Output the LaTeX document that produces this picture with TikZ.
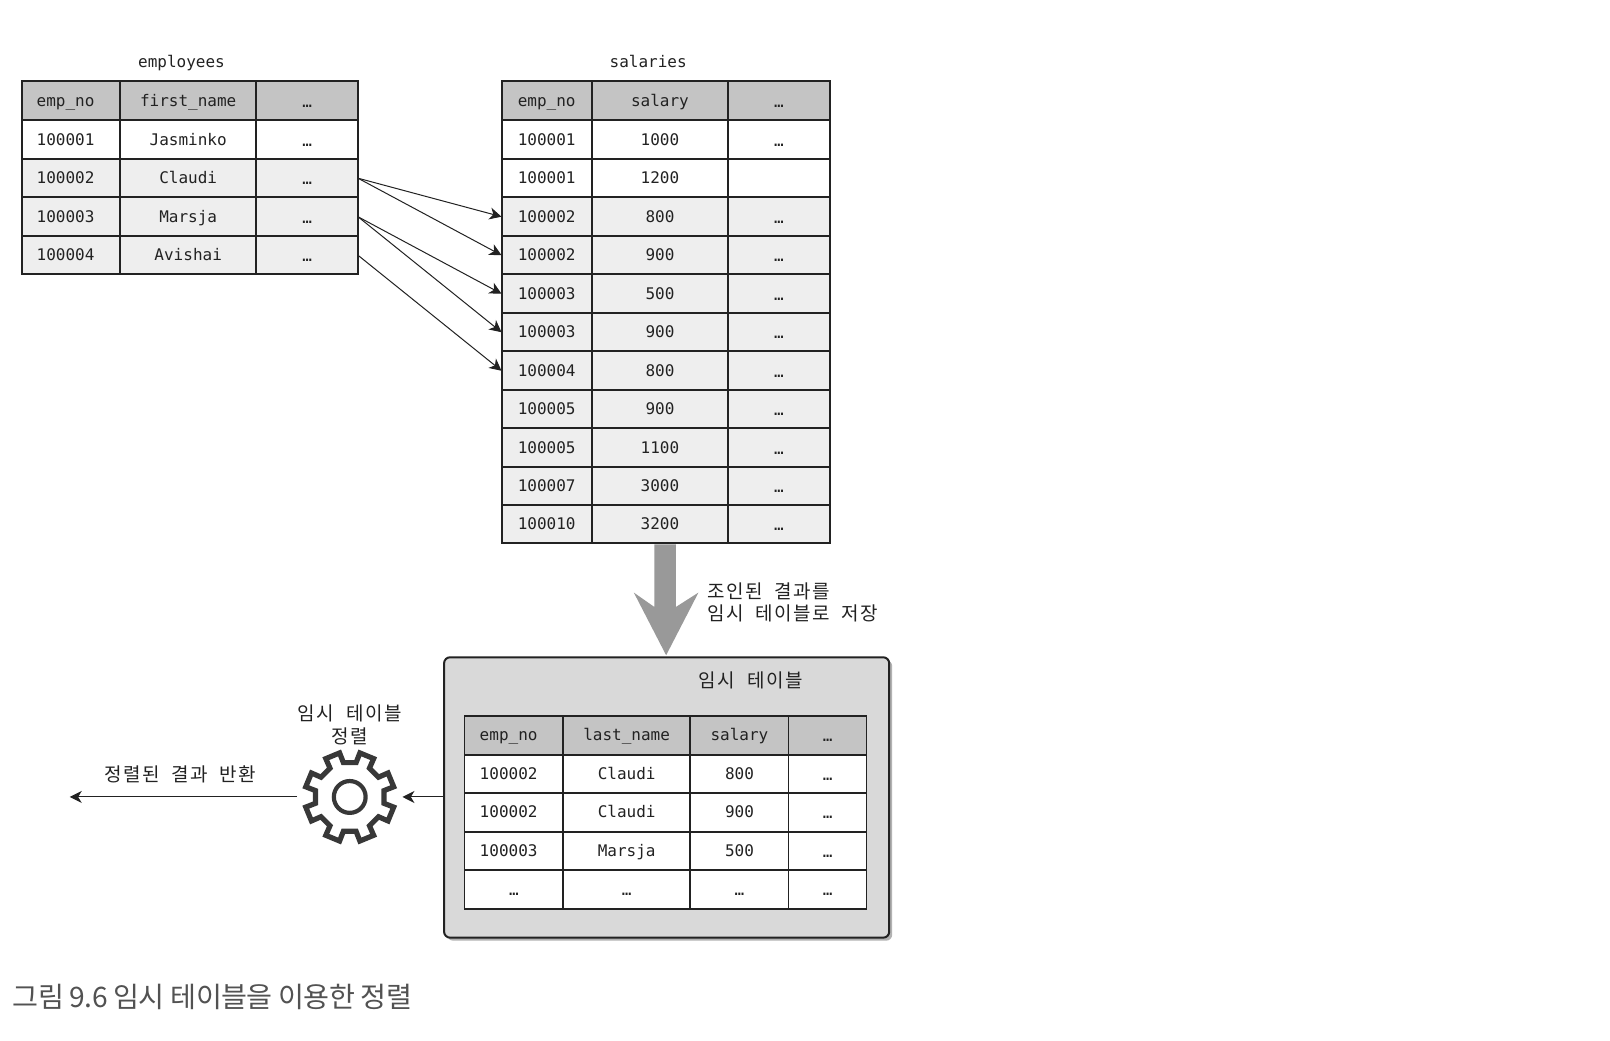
\documentclass[tikz,border=0pt]{standalone}
\usepackage{fontspec}
\setmainfont{DejaVu Sans Mono}
\newfontfamily\kr[LetterSpace=8,WordSpace=2]{Noto Sans CJK KR}
\newfontfamily\krcap[LetterSpace=-2]{Noto Sans CJK KR}
\usetikzlibrary{arrows.meta,shadows}
\definecolor{hdr}{HTML}{C4C4C4}
\definecolor{alt}{HTML}{EEEEEE}
\definecolor{ink}{HTML}{222222}
\tikzset{
  cellbox/.style={draw=ink,line width=1pt,inner sep=0pt,outer sep=0pt,text=ink,font=\fontsize{8}{8}\selectfont,text height=7pt,text depth=1.5pt,align=center},
  tcell/.style={cellbox,line width=.75pt},
  title/.style={inner sep=0pt,text=ink,font=\fontsize{8}{8}\selectfont},
  krlabel/.style={inner sep=0pt,text=ink,align=center,font=\kr\fontsize{9.5}{11.4}\selectfont},
  link/.style={draw=ink,line width=.5pt,-{Stealth[length=6pt,width=6pt,inset=1.8pt]}},
  flow/.style={draw=ink,line width=.5pt,-{Stealth[length=6pt,width=6pt,inset=1.8pt]}},
}
\newcommand{\cellat}[8][cellbox]{%
  \node[#1,fill=#7,minimum width={(#4-#3)*0.5128pt},minimum height={(#6-#5)*0.5135pt}] (#2) at ({(#3+#4)/2},{(#5+#6)/2}) {#8};}
\newcommand{\dd}{\raisebox{-.5pt}{…}}
\newcommand{\ls}[1]{#1\kern5.2pt}
\begin{document}
\begin{tikzpicture}[x=0.5128pt,y=-0.5135pt]
\useasboundingbox (0,0) rectangle (1569.8,1012.66);
\fill[white] (0,0) rectangle (1569.8,1012.66);
% employees
\node[title] (tE) at (177,61) {employees};
\cellat{e00}{21}{117}{79}{117}{hdr}{\ls{emp\_no}}
\cellat{e01}{117}{250}{79}{117}{hdr}{first\_name}
\cellat{e02}{250}{349}{79}{117}{hdr}{\dd}
\cellat{e10}{21}{117}{117}{155}{white}{\ls{100001}}
\cellat{e11}{117}{250}{117}{155}{white}{Jasminko}
\cellat{e12}{250}{349}{117}{155}{white}{\dd}
\cellat{e20}{21}{117}{155}{192}{alt}{\ls{100002}}
\cellat{e21}{117}{250}{155}{192}{alt}{Claudi}
\cellat{e22}{250}{349}{155}{192}{alt}{\dd}
\cellat{e30}{21}{117}{192}{230}{alt}{\ls{100003}}
\cellat{e31}{117}{250}{192}{230}{alt}{Marsja}
\cellat{e32}{250}{349}{192}{230}{alt}{\dd}
\cellat{e40}{21}{117}{230}{267}{alt}{\ls{100004}}
\cellat{e41}{117}{250}{230}{267}{alt}{Avishai}
\cellat{e42}{250}{349}{230}{267}{alt}{\dd}
% salaries
\node[title] (tS) at (632,60) {salaries};
\cellat{s00}{489}{577}{79}{117}{hdr}{emp\_no}
\cellat{s01}{577}{710}{79}{117}{hdr}{salary}
\cellat{s02}{710}{809}{79}{117}{hdr}{\dd}
\cellat{s10}{489}{577}{117}{155}{white}{100001}
\cellat{s11}{577}{710}{117}{155}{white}{1000}
\cellat{s12}{710}{809}{117}{155}{white}{\dd}
\cellat{s20}{489}{577}{155}{192}{white}{100001}
\cellat{s21}{577}{710}{155}{192}{white}{1200}
\cellat{s22}{710}{809}{155}{192}{white}{}
\cellat{s30}{489}{577}{192}{230}{alt}{100002}
\cellat{s31}{577}{710}{192}{230}{alt}{800}
\cellat{s32}{710}{809}{192}{230}{alt}{\dd}
\cellat{s40}{489}{577}{230}{267}{alt}{100002}
\cellat{s41}{577}{710}{230}{267}{alt}{900}
\cellat{s42}{710}{809}{230}{267}{alt}{\dd}
\cellat{s50}{489}{577}{267}{305}{alt}{100003}
\cellat{s51}{577}{710}{267}{305}{alt}{500}
\cellat{s52}{710}{809}{267}{305}{alt}{\dd}
\cellat{s60}{489}{577}{305}{342}{alt}{100003}
\cellat{s61}{577}{710}{305}{342}{alt}{900}
\cellat{s62}{710}{809}{305}{342}{alt}{\dd}
\cellat{s70}{489}{577}{342}{380}{alt}{100004}
\cellat{s71}{577}{710}{342}{380}{alt}{800}
\cellat{s72}{710}{809}{342}{380}{alt}{\dd}
\cellat{s80}{489}{577}{380}{417}{alt}{100005}
\cellat{s81}{577}{710}{380}{417}{alt}{900}
\cellat{s82}{710}{809}{380}{417}{alt}{\dd}
\cellat{s90}{489}{577}{417}{455}{alt}{100005}
\cellat{s91}{577}{710}{417}{455}{alt}{1100}
\cellat{s92}{710}{809}{417}{455}{alt}{\dd}
\cellat{sa0}{489}{577}{455}{492}{alt}{100007}
\cellat{sa1}{577}{710}{455}{492}{alt}{3000}
\cellat{sa2}{710}{809}{455}{492}{alt}{\dd}
\cellat{sb0}{489}{577}{492}{529}{alt}{100010}
\cellat{sb1}{577}{710}{492}{529}{alt}{3200}
\cellat{sb2}{710}{809}{492}{529}{alt}{\dd}
% links
\draw[link] (e22.east) -- (s30.west);
\draw[link] (e22.east) -- (s40.west);
\draw[link] (e32.east) -- (s50.west);
\draw[link] (e32.east) -- (s60.west);
\draw[link] (e42.east) -- (s70.west);
% temp box
\node[draw=ink,line width=1pt,fill=black!15,rounded corners=3pt,inner sep=0pt,
  minimum width={434*0.5128pt},minimum height={273*0.5135pt},
  drop shadow={shadow xshift=1.5pt,shadow yshift=-1.5pt,fill=black!50,opacity=.6}] (box) at (650,776.5) {};
% big arrow
\fill[black!40] (638,530) -- (659,530) -- (659,591) -- (681,577) -- (649.5,638) -- (618,577) -- (638,591) -- cycle;
\node[krlabel,align=left,anchor=west] (lJoin) at (689,586.5) {조인된 결과를\\임시 테이블로 저장};
\node[krlabel] (lTemp) at (732,662.5) {임시 테이블};
% temp table
\cellat[tcell]{t00}{453}{549}{697}{735}{hdr}{\ls{emp\_no}}
\cellat[tcell]{t01}{549}{673}{697}{735}{hdr}{last\_name}
\cellat[tcell]{t02}{673}{769}{697}{735}{hdr}{salary}
\cellat[tcell]{t03}{769}{845}{697}{735}{hdr}{\dd}
\cellat[tcell]{t10}{453}{549}{735}{772}{white}{\ls{100002}}
\cellat[tcell]{t11}{549}{673}{735}{772}{white}{Claudi}
\cellat[tcell]{t12}{673}{769}{735}{772}{white}{800}
\cellat[tcell]{t13}{769}{845}{735}{772}{white}{\dd}
\cellat[tcell]{t20}{453}{549}{772}{810}{white}{\ls{100002}}
\cellat[tcell]{t21}{549}{673}{772}{810}{white}{Claudi}
\cellat[tcell]{t22}{673}{769}{772}{810}{white}{900}
\cellat[tcell]{t23}{769}{845}{772}{810}{white}{\dd}
\cellat[tcell]{t30}{453}{549}{810}{847}{white}{\ls{100003}}
\cellat[tcell]{t31}{549}{673}{810}{847}{white}{Marsja}
\cellat[tcell]{t32}{673}{769}{810}{847}{white}{500}
\cellat[tcell]{t33}{769}{845}{810}{847}{white}{\dd}
\cellat[tcell]{t40}{453}{549}{847}{885}{white}{\dd}
\cellat[tcell]{t41}{549}{673}{847}{885}{white}{\dd}
\cellat[tcell]{t42}{673}{769}{847}{885}{white}{\dd}
\cellat[tcell]{t43}{769}{845}{847}{885}{white}{\dd}
% gear
\coordinate (gc) at (341,776);
\node[minimum size={102*0.5128pt},inner sep=0pt,circle] (gear) at (gc) {};
\begin{scope}[shift={(gc)}]
\draw[draw=ink!90,line width=2.6pt,line join=miter,fill=white]
  (10.5:34) \foreach \a in {22.5,67.5,...,337.5} {
    -- ({\a-12}:34) -- ({\a-9.5}:44) -- ({\a+9.5}:44) -- ({\a+12}:34)
  } -- cycle;
\draw[draw=ink!90,line width=2.1pt] (0,0) circle (15.5);
\end{scope}
\node[krlabel] (lSort) at (341,705.5) {임시 테이블\\정렬};
\node[krlabel] (lRes) at (176,754) {정렬된 결과 반환};
\coordinate (end) at (68,776);
\draw[flow] (box.west |- gear) -- (gear.east);
\draw[flow] (gear.west) -- (end);
\node[anchor=west,inner sep=0pt,text=black!68,font=\krcap\fontsize{14.1}{14}\selectfont] (cap) at (12,971) {그림 9.6 임시 테이블을 이용한 정렬};
\end{tikzpicture}
\end{document}
